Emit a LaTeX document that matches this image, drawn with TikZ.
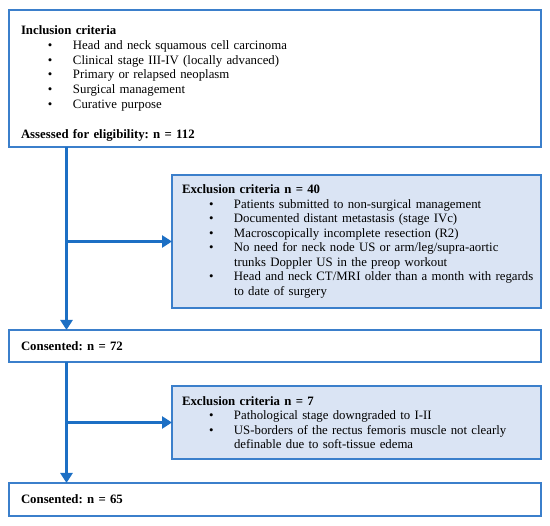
\documentclass[tikz,border=0pt]{standalone}
\usepackage{fontspec}
\setmainfont{Liberation Serif}
\usetikzlibrary{arrows.meta,positioning}
\setlength{\parindent}{0pt}
\frenchspacing
\hyphenpenalty=10000

\definecolor{boxline}{HTML}{3B7FCB}
\definecolor{flowline}{HTML}{1C6FC4}
\definecolor{exclfill}{HTML}{DAE4F4}

% one bullet of a criteria list
\newcommand{\critem}[1]{\noindent\hangindent=52pt\hangafter=1\hspace*{27pt}\makebox[25pt][l]{\textbullet}#1\par}

\begin{document}
\begin{tikzpicture}[x=1pt, y=1pt,
		mainbox/.style={draw=boxline, line width=1.2pt, rectangle, outer sep=0pt, inner xsep=12pt, inner ysep=0pt,
			minimum width=532pt, text width=508pt, align=left, font=\fontsize{12.8}{14.8}\selectfont},
		exclbox/.style={draw=boxline, fill=exclfill, line width=1.2pt, rectangle, outer sep=0pt, inner xsep=10pt, inner ysep=0pt,
			minimum width=369pt, text width=349pt, align=left, font=\fontsize{12.8}{14.5}\selectfont},
		flow/.style={draw=flowline, line width=3.6pt, -{Triangle[length=10pt, width=12pt]}}]
			\useasboundingbox (0,0) rectangle (550,-526);
			\node[mainbox, minimum height=137pt] (incl) at (275,-78.5) {\rule{0pt}{18.5pt}\textbf{Inclusion criteria}\par
				\critem{Head and neck squamous cell carcinoma}
				\critem{Clinical stage III-IV (locally advanced)}
				\critem{Primary or relapsed neoplasm}
				\critem{Surgical management}
				\critem{Curative purpose}
				\vskip\baselineskip\textbf{Assessed for eligibility: n = 112}};
			\node[exclbox, minimum height=133pt] (excla) at (356.5,-241.5) {\textbf{Exclusion criteria n = 40}\par
				\critem{Patients submitted to non-surgical management}
				\critem{Documented distant metastasis (stage IVc)}
				\critem{Macroscopically incomplete resection (R2)}
				\critem{\mbox{No need for neck node US or arm/leg/supra-aortic}\newline trunks Doppler US in the preop workout}
				\critem{\mbox{Head and neck CT/MRI older than a month with regards}\newline to date of surgery}};
			\node[mainbox, minimum height=32pt] (cons1) at (275,-346) {\textbf{Consented: n = 72}};
			\node[exclbox, minimum height=73pt] (exclb) at (356.5,-422.5) {\textbf{Exclusion criteria n = 7}\par
				\critem{Pathological stage downgraded to I-II}
				\critem{\mbox{US-borders of the rectus femoris muscle not clearly}\newline definable due to soft-tissue edema}};
			\node[mainbox, minimum height=33pt] (cons2) at (275,-499.5) {\textbf{Consented: n = 65}};
			\coordinate (trunk) at (66.5,0);
			\draw[flow] (incl.south -| trunk) -- (cons1.north -| trunk);
			\draw[flow] (excla.west -| trunk) -- (excla.west);
			\draw[flow] (cons1.south -| trunk) -- (cons2.north -| trunk);
			\draw[flow] (exclb.west -| trunk) -- (exclb.west);
		\end{tikzpicture}
\end{document}
